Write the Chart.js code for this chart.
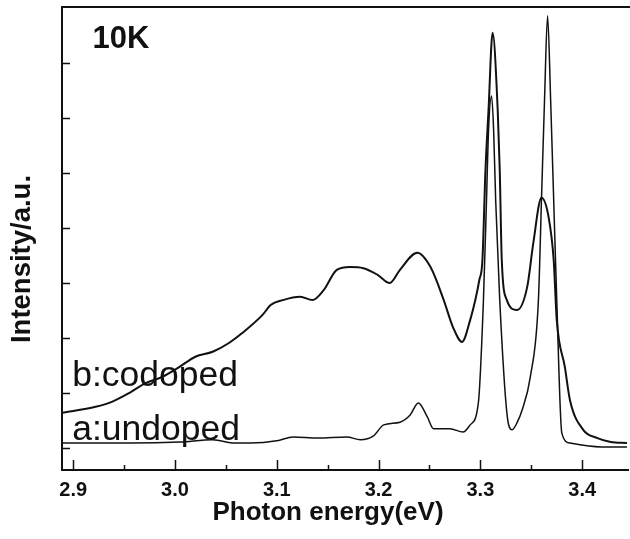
<!DOCTYPE html>
<html>
<head>
<meta charset="utf-8">
<title>PL spectra 10K</title>
<script src="https://cdn.jsdelivr.net/npm/chart.js@4.4.1/dist/chart.umd.min.js"></script>
<style>
  html, body { margin: 0; padding: 0; background: #fff; }
  #plChart { display: block; }
</style>
</head>
<body>
<canvas id="plChart" width="630" height="539"></canvas>
<script>
// Photon energy (eV) and intensity (a.u.)

// a: undoped
const energyA = [2.889, 2.956, 3.005, 3.037, 3.059, 3.074, 3.100, 3.116, 3.140, 3.169,
  3.182, 3.195, 3.205, 3.221, 3.231, 3.239, 3.248, 3.254, 3.270, 3.283,
  3.290, 3.298, 3.303, 3.306, 3.308, 3.311, 3.313, 3.315, 3.319, 3.326,
  3.331, 3.336, 3.341, 3.349, 3.357, 3.360, 3.363, 3.366, 3.369, 3.372,
  3.375, 3.380, 3.388, 3.418, 3.444];
const intensityA = [0.09, 0.09, 0.11, 0.15, 0.09, 0.09, 0.13, 0.20, 0.18, 0.20,
  0.15, 0.22, 0.42, 0.47, 0.60, 0.82, 0.56, 0.35, 0.35, 0.29,
  0.42, 0.82, 2.69, 4.51, 5.78, 6.40, 5.78, 4.51, 2.69, 0.64,
  0.33, 0.46, 0.69, 1.29, 2.69, 4.51, 6.33, 7.86, 6.33, 4.51,
  2.69, 0.27, 0.09, 0.02, 0.02];

// b: codoped
const energyB = [2.889, 2.922, 2.938, 2.955, 2.971, 2.987, 3.004, 3.020, 3.037, 3.053,
  3.066, 3.086, 3.094, 3.106, 3.123, 3.135, 3.146, 3.159, 3.172, 3.185,
  3.199, 3.211, 3.221, 3.238, 3.251, 3.264, 3.273, 3.282, 3.290, 3.295,
  3.299, 3.302, 3.305, 3.308, 3.312, 3.317, 3.319, 3.321, 3.326, 3.336,
  3.346, 3.352, 3.360, 3.367, 3.372, 3.375, 3.383, 3.388, 3.401, 3.415,
  3.428, 3.444];
const intensityB = [0.64, 0.75, 0.84, 1.00, 1.18, 1.29, 1.47, 1.66, 1.75, 1.91,
  2.09, 2.42, 2.60, 2.69, 2.75, 2.69, 2.87, 3.24, 3.29, 3.27,
  3.15, 3.00, 3.24, 3.55, 3.29, 2.69, 2.20, 1.93, 2.33, 2.69,
  3.06, 3.42, 5.06, 6.15, 7.55, 6.15, 5.06, 3.42, 2.69, 2.51,
  2.93, 3.73, 4.55, 4.20, 3.42, 2.33, 1.47, 0.87, 0.33, 0.18,
  0.11, 0.09];

// axis ticks
const xTickValues = [2.9, 3.0, 3.1, 3.2, 3.3, 3.4];
const xMinorTicks = [2.95, 3.05, 3.15, 3.25, 3.35];
const yTickValues = [0, 1, 2, 3, 4, 5, 6, 7];

// text written inside the plot: [text, energy, intensity, font]
const notes = [
  ['10K', 2.919, 7.27, 'bold 31px "Liberation Sans", Arial, sans-serif'],
  ['b:codoped', 2.899, 1.13, '35.5px "Liberation Sans", Arial, sans-serif'],
  ['a:undoped', 2.899, 0.15, '35.5px "Liberation Sans", Arial, sans-serif']
];

const INK = '#111';
const FONT = '"Liberation Sans", Arial, sans-serif';

const toPoints = (xs, ys) => xs.map((x, i) => ({ x: x, y: ys[i] }));

// inner tick marks, frame top line, in-plot labels and axis titles
const decorations = {
  id: 'decorations',
  afterDraw(chart) {
    const { ctx, chartArea: area, scales: { x, y } } = chart;
    ctx.save();
    ctx.strokeStyle = INK;

    ctx.beginPath();
    ctx.moveTo(area.left, area.top);
    ctx.lineTo(chart.width, area.top);
    ctx.lineWidth = 2;
    ctx.stroke();
    ctx.lineWidth = 1.5;

    ctx.beginPath();
    xTickValues.forEach(v => {
      const px = Math.round(x.getPixelForValue(v)) + 0.5;
      ctx.moveTo(px, area.bottom);
      ctx.lineTo(px, area.bottom - 10);
    });
    xMinorTicks.forEach(v => {
      const px = Math.round(x.getPixelForValue(v)) + 0.5;
      ctx.moveTo(px, area.bottom);
      ctx.lineTo(px, area.bottom - 5);
    });
    yTickValues.forEach(v => {
      const py = Math.round(y.getPixelForValue(v)) + 0.5;
      ctx.moveTo(area.left, py);
      ctx.lineTo(area.left + 8, py);
    });
    ctx.stroke();

    ctx.fillStyle = INK;
    ctx.textBaseline = 'alphabetic';
    ctx.textAlign = 'left';
    notes.forEach(([text, ex, iy, font]) => {
      ctx.font = font;
      ctx.fillText(text, x.getPixelForValue(ex), y.getPixelForValue(iy));
    });

    ctx.font = 'bold 26px ' + FONT;
    ctx.textAlign = 'center';
    ctx.textBaseline = 'middle';
    ctx.fillText('Photon energy(eV)', 328, 513);

    ctx.font = 'bold 27.5px ' + FONT;
    ctx.translate(22, 259);
    ctx.rotate(-Math.PI / 2);
    ctx.fillText('Intensity/a.u.', 0, 0);
    ctx.restore();
  }
};

new Chart(document.getElementById('plChart'), {
  type: 'line',
  data: {
    datasets: [
      {
        label: 'b:codoped',
        data: toPoints(energyB, intensityB),
        borderColor: INK,
        borderWidth: 2,
        pointRadius: 0,
        cubicInterpolationMode: 'monotone'
      },
      {
        label: 'a:undoped',
        data: toPoints(energyA, intensityA),
        borderColor: INK,
        borderWidth: 1.5,
        pointRadius: 0,
        cubicInterpolationMode: 'monotone'
      }
    ]
  },
  options: {
    responsive: false,
    animation: false,
    devicePixelRatio: 1,
    layout: { padding: { left: 62, top: 7, right: 2, bottom: 29 } },
    plugins: {
      legend: { display: false },
      tooltip: { enabled: false }
    },
    scales: {
      x: {
        type: 'linear',
        min: 2.889,
        max: 3.445,
        afterBuildTicks: scale => {
          scale.ticks = xTickValues.map(v => ({ value: v }));
        },
        grid: { display: false, drawTicks: false },
        border: { display: true, color: INK, width: 2 },
        ticks: {
          color: INK,
          padding: 8,
          maxRotation: 0,
          font: { family: FONT, size: 20, weight: 'bold' },
          callback: v => Number(v).toFixed(1)
        }
      },
      y: {
        type: 'linear',
        min: -0.4,
        max: 8.02,
        grid: { display: false, drawTicks: false },
        border: { display: true, color: INK, width: 2 },
        ticks: { display: false }
      }
    }
  },
  plugins: [decorations]
});
</script>
</body>
</html>
